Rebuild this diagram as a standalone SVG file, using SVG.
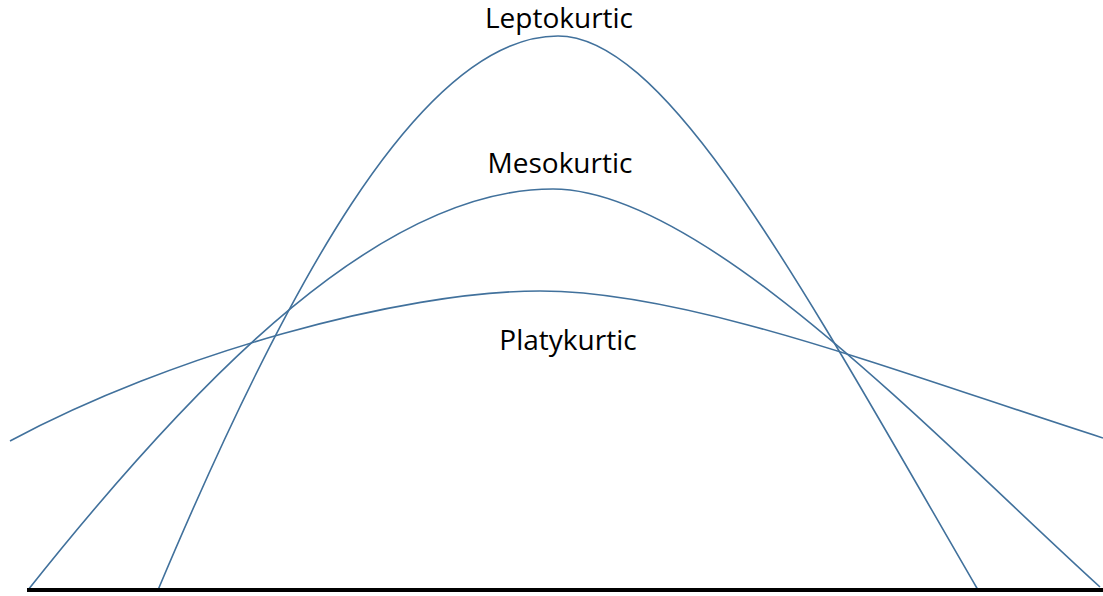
<svg xmlns="http://www.w3.org/2000/svg" width="1103" height="596" viewBox="0 0 1103 596">
<style>
.curve{fill:none;stroke:#41719c;stroke-width:1.6}
.lbl{font-family:"Open Sans","Liberation Sans",sans-serif;font-size:28px;fill:#000;text-anchor:middle}
</style>
<rect width="1103" height="596" fill="#fff"/>
<g id="curves">
<path id="lepto" class="curve" d="M158,590 C280,300 418,36 558,36 C668,36 804,290 978,590"/>
<path id="meso" class="curve" d="M28,590 C202,371 383,189 553,189 C703,189 935,437 1100,587"/>
<path id="platy" class="curve" d="M10,441 C170,355 400,291 540,291 C690,291 900,373 1103,438"/>
</g>
<line id="axis" x1="27" y1="590" x2="1103" y2="590" stroke="#000" stroke-width="4"/>
<g id="labels">
<text class="lbl" x="559" y="28">Leptokurtic</text>
<text class="lbl" x="560" y="173">Mesokurtic</text>
<text class="lbl" x="568" y="350">Platykurtic</text>
</g>
</svg>
